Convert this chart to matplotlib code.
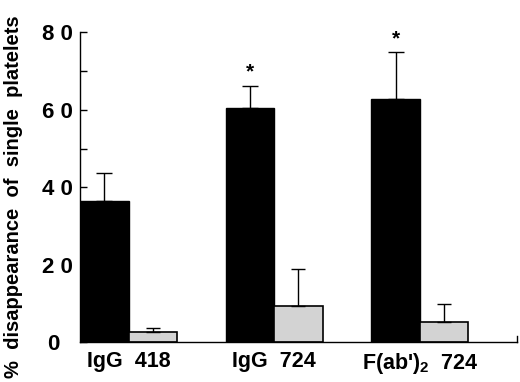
import numpy as np
import matplotlib
matplotlib.use('Agg')
import matplotlib.pyplot as plt

plt.rcParams.update({
    'font.family': ['Liberation Sans', 'DejaVu Sans'],
    'font.weight': 'bold',
    'mathtext.fontset': 'custom',
    'mathtext.bf': 'Liberation Sans:bold',
    'mathtext.rm': 'Liberation Sans:bold',
})

groups = ["IgG  418", "IgG  724", r"F(ab')$_{\mathbf{2}}$  724"]
black_vals = [36.5, 60.5, 62.9]
black_err = [7.1, 5.7, 11.9]
grey_vals = [2.7, 9.4, 5.3]
grey_err = [1.1, 9.5, 4.5]
stars = ['', '*', '*']
yticks = [0, 20, 40, 60, 80]
ytick_labels = ['0  ', '2 0', '4 0', '6 0', '8 0']
minor_ticks = [10, 30, 50, 70]

fig = plt.figure(figsize=(5.2, 3.82), dpi=100)
ax = fig.add_axes([0.1538, 0.104, 0.8404, 0.8114])

x = np.arange(len(groups)) * 3
ax.bar(x, black_vals, width=1.0, color='black', edgecolor='black', linewidth=1)
ax.errorbar(x, black_vals, yerr=[np.zeros(3), black_err], fmt='none',
            ecolor='black', elinewidth=1, capsize=6, capthick=1)
ax.bar(x + 1, grey_vals, width=1.0, color='#d3d3d3', edgecolor='black', linewidth=1.2)
ax.errorbar(x + 1, grey_vals, yerr=[np.zeros(3), grey_err], fmt='none',
            ecolor='black', elinewidth=1, capsize=5, capthick=1)

for xi, v, e, s in zip(x, black_vals, black_err, stars):
    if s:
        ax.text(xi, v + e + 3.6, s, ha='center', va='center', fontsize=15)

ax.set_xlim(-0.5, 8.5)
ax.set_ylim(0, 80)
ax.spines['top'].set_visible(False)
ax.spines['right'].set_visible(False)
ax.spines['left'].set_linewidth(1)
ax.spines['bottom'].set_linewidth(1)

ax.set_yticks(yticks)
ax.set_yticklabels(ytick_labels, fontsize=16, fontweight='bold')
ax.set_yticks(minor_ticks, minor=True)
ax.tick_params(axis='y', which='both', direction='in', length=5, width=1, pad=5)
ax.set_xticks(x + 0.5)
ax.set_xticklabels(groups, fontsize=15.5, fontweight='bold')
ax.tick_params(axis='x', length=0, pad=6)
ax.plot([8.5, 8.5], [0, 1.5], color='black', lw=1, clip_on=False)

ax.set_ylabel('%  disappearance  of  single  platelets', fontsize=14.5,
              fontweight='bold')
ax.yaxis.set_label_coords(-0.13, 0.47)

fig.savefig('out.png', dpi=100)
